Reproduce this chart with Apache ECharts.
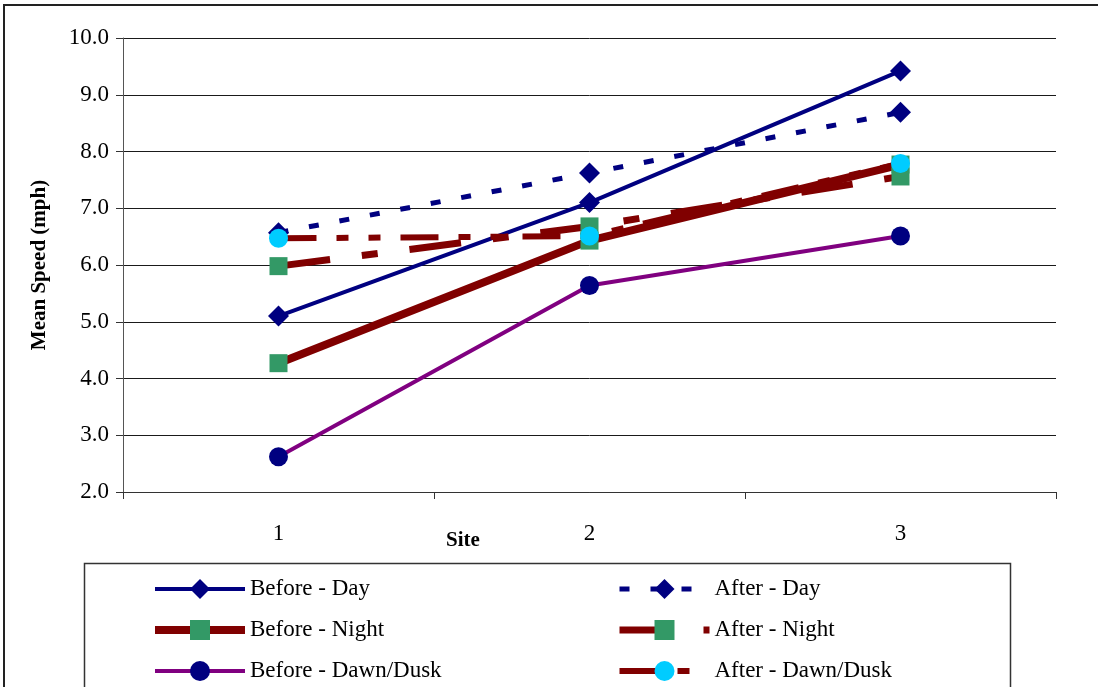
<!DOCTYPE html>
<html>
<head>
<meta charset="utf-8">
<script src="https://cdn.jsdelivr.net/npm/echarts@6/dist/echarts.min.js"></script>
<style>html,body{margin:0;padding:0;background:#fff;}#c{width:1098px;height:687px;}</style>
</head>
<body>
<div id="c"></div>
<script>
const sites = ['1', '2', '3'];
const beforeDay = [5.10, 7.10, 9.42];
const afterDay = [6.57, 7.62, 8.69];
const beforeNight = [4.27, 6.43, 7.77];
const afterNight = [5.98, 6.68, 7.56];
const beforeDawnDusk = [2.62, 5.64, 6.51];
const afterDawnDusk = [6.47, 6.51, 7.79];
const yTicks = { min: 2, max: 10, interval: 1 };

const FONT = "'Times New Roman', 'Liberation Serif', serif";
const NAVY = '#000080', MAROON = '#800000', PURPLE = '#800080', GREEN = '#339966', CYAN = '#00CCFF';

const lineWidths = {};
function mk(name, data, color, width, dash, symbol, symColor, symSize) {
  lineWidths[name] = width;
  return {
    name, type: 'line', data,
    symbol, symbolSize: symSize,
    showSymbol: true,
    lineStyle: { color, width, type: dash || 'solid', cap: 'butt' },
    itemStyle: { color: symColor, borderWidth: 0 },
    emphasis: { disabled: true },
    animation: false
  };
}

const series = [
  mk('Before - Day', beforeDay, NAVY, 4, null, 'diamond', NAVY, 21),
  mk('After - Day', afterDay, NAVY, 5, [10, 21], 'diamond', NAVY, 21),
  mk('Before - Night', beforeNight, MAROON, 8, null, 'rect', GREEN, 18),
  mk('After - Night', afterNight, MAROON, 7, [52, 32, 16, 32], 'rect', GREEN, 18),
  mk('Before - Dawn/Dusk', beforeDawnDusk, PURPLE, 4, null, 'circle', NAVY, 19),
  mk('After - Dawn/Dusk', afterDawnDusk, MAROON, 6, [38, 20, 12, 20, 12, 20], 'circle', CYAN, 19)
];

const legendCommon = {
  orient: 'vertical', itemWidth: 90, itemHeight: 25, itemGap: 17, padding: 0,
  selectedMode: false,
  textStyle: { fontFamily: FONT, fontSize: 23, color: '#000', lineHeight: 24 }
};
const legItem = n => ({ name: n, lineStyle: { width: lineWidths[n] } });

const chart = echarts.init(document.getElementById('c'), null, { renderer: 'canvas' });
chart.setOption({
  animation: false,
  backgroundColor: '#fff',
  grid: { left: 123, right: 42, top: 38, bottom: 195, containLabel: false },
  xAxis: {
    type: 'category', data: sites, boundaryGap: true,
    axisLine: { lineStyle: { color: '#333', width: 1 } },
    axisTick: { show: true, length: 7, lineStyle: { color: '#333' } },
    axisLabel: { fontFamily: FONT, fontSize: 23, color: '#000', margin: 30 },
    splitLine: { show: false }
  },
  yAxis: {
    type: 'value', min: yTicks.min, max: yTicks.max, interval: yTicks.interval,
    axisLine: { show: true, lineStyle: { color: '#555', width: 1 } },
    axisTick: { show: true, length: 7, lineStyle: { color: '#333' } },
    axisLabel: { fontFamily: FONT, fontSize: 23, color: '#000', margin: 14, formatter: v => v.toFixed(1) },
    splitLine: { show: true, lineStyle: { color: '#1a1a1a', width: 1 } }
  },
  legend: [
    Object.assign({}, legendCommon, { left: 151, top: 577,
      data: ['Before - Day', 'Before - Night', 'Before - Dawn/Dusk'].map(legItem) }),
    Object.assign({}, legendCommon, { left: 616, top: 577,
      data: ['After - Day', 'After - Night', 'After - Dawn/Dusk'].map(legItem) })
  ],
  graphic: [
    { type: 'rect', z: -10, silent: true, shape: { x: 4, y: 5, width: 1200, height: 800 },
      style: { fill: 'none', stroke: '#222', lineWidth: 2 } },
    { type: 'rect', z: -5, silent: true, shape: { x: 84.5, y: 563.5, width: 926, height: 200 },
      style: { fill: '#fff', stroke: '#333', lineWidth: 1.5 } },
    { type: 'text', silent: true, x: 40, y: 265, rotation: Math.PI / 2,
      style: { text: 'Mean Speed (mph)', font: "bold 21px 'Times New Roman', 'Liberation Serif', serif",
        fill: '#000', align: 'center', verticalAlign: 'middle' } },
    { type: 'text', silent: true, x: 463, y: 541,
      style: { text: 'Site', font: "bold 21px 'Times New Roman', 'Liberation Serif', serif",
        fill: '#000', align: 'center', verticalAlign: 'middle' } }
  ],
  series
});
</script>
</body>
</html>
